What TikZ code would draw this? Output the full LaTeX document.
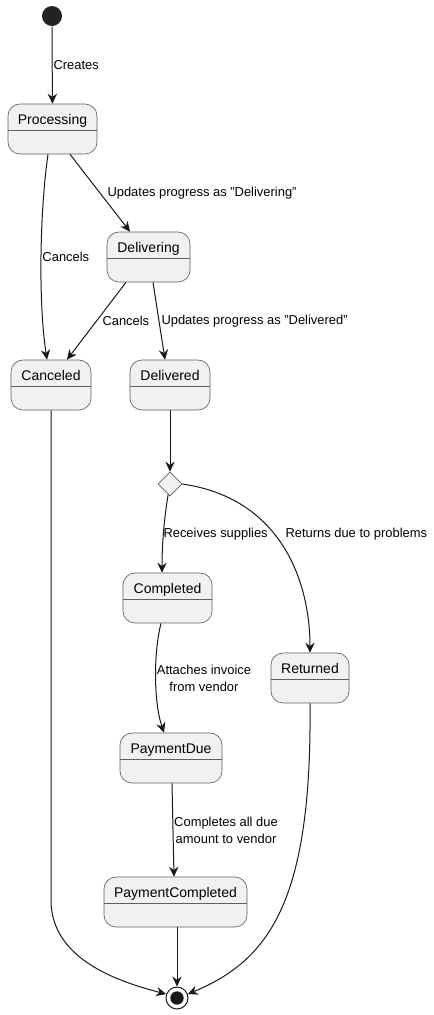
\documentclass[tikz,border=0pt]{standalone}
\usepackage{fontspec}
\setmainfont{Liberation Sans}
\usetikzlibrary{arrows.meta,shapes.geometric,calc}

\definecolor{stfill}{HTML}{F1F1F1}
\definecolor{stline}{HTML}{5F5F5F}
\definecolor{edgecol}{HTML}{181818}

\tikzset{every picture/.style={line width=0.75pt},
	state/.style={draw=stline, fill=stfill, rounded corners=9pt, line width=0.5pt, minimum height=37.5pt, inner xsep=0pt, inner ysep=0pt, text height=15pt, text depth=22.5pt, font=\fontsize{10.5}{12}\selectfont},
	trans/.style={draw=edgecol, line width=0.75pt, -{Stealth[length=7.5pt,width=7pt,inset=2.5pt]}},
	lbl/.style={font=\fontsize{9.7}{12.75}\selectfont, inner sep=0pt, text=black, align=center},
}

\begin{document}
\begin{tikzpicture}[x=0.75pt,y=0.75pt,yscale=-1,xscale=1]
	\useasboundingbox (0,0) rectangle (434,1015);

	%Shape: Start point
	\node[circle, fill={rgb, 255:red, 34; green, 34; blue, 34}, minimum size=15pt, inner sep=0pt] (start) at (52,16) {};

	%Shape: States
	\node[state, minimum width=66.75pt] (proc) at (52.5,129) {Processing};
	\node[state, minimum width=62.25pt] (deliv) at (148.5,257) {Delivering};
	\node[state, minimum width=60pt] (canc) at (51,385) {Canceled};
	\node[state, minimum width=60pt] (delivd) at (170,385) {Delivered};
	\node[diamond, draw=stline, fill=stfill, line width=0.5pt, minimum size=18pt, inner sep=0pt] (choice) at (170,484) {};
	\node[state, minimum width=66.75pt] (compl) at (167.5,598) {Completed};
	\node[state, minimum width=58.5pt] (ret) at (310,678) {Returned};
	\node[state, minimum width=76.5pt] (pdue) at (171,758) {PaymentDue};
	\node[state, minimum width=107.25pt] (pcomp) at (175.5,902) {PaymentCompleted};

	%Shape: End point
	\node[circle, draw=edgecol, fill=white, line width=0.75pt, minimum size=16.5pt, inner sep=0pt] (endst) at (177,998) {};
	\fill[edgecol] (endst) circle (5pt);

	%Straight Lines: dividers
	\foreach \s in {proc,deliv,canc,delivd,compl,ret,pdue,pcomp}
		\draw[stline, line width=0.5pt] ($(\s.north west)+(0,27)$) -- ($(\s.north east)+(0,27)$);

	%Curve Lines: transitions
	\draw[trans] (start) -- (proc);
	\draw[trans] ($(proc.south)+(-4.5,0)$) .. controls (40,210) and (38,300) .. ($(canc.north)+(-4,0)$);
	\draw[trans] ($(proc.south)+(17.5,0)$) -- ($(deliv.north)+(-18.5,0)$);
	\draw[trans] ($(deliv.south)+(-22.5,0)$) -- ($(canc.north)+(16,0)$);
	\draw[trans] ($(deliv.south)+(4.5,0)$) -- ($(delivd.north)+(-5,0)$);
	\draw[trans] (delivd) -- (choice);
	\draw[trans] (choice.-100) .. controls (164,520) and (162,545) .. ($(compl.north)+(-5.5,0)$);
	\draw[trans] (choice.east) .. controls (280,498) and (310,580) .. (ret.north);
	\draw[trans] ($(compl.south)+(-6.5,0)$) .. controls (154,650) and (153,700) .. ($(pdue.north)+(-7,0)$);
	\draw[trans] ($(pdue.south)+(1,0)$) -- ($(pcomp.north)+(-1.5,0)$);
	\draw[trans] ($(pcomp.south)+(1.5,0)$) -- (endst.north);
	\coordinate (cbend) at (51,900);
	\draw[trans] (canc.south) -- (cbend) .. controls (51,960) and (120,982) .. (endst.160);
	\draw[trans] (ret.south) .. controls (312,900) and (270,960) .. (endst.20);

	% Text Node
	\node[lbl, anchor=west] (lcreates) at (53,65) {Creates};
	% Text Node
	\node[lbl, anchor=west] (ltodeliv) at (107,193) {Updates progress as "Delivering"};
	% Text Node
	\node[lbl, anchor=west] (lcancA) at (42,257) {Cancels};
	% Text Node
	\node[lbl, anchor=west] (lcancB) at (102,321) {Cancels};
	% Text Node
	\node[lbl, anchor=west] (ltodelivd) at (161,321) {Updates progress as "Delivered"};
	% Text Node
	\node[lbl, anchor=west] (lreceives) at (163,534) {Receives supplies};
	% Text Node
	\node[lbl, anchor=west] (lreturns) at (285,534) {Returns due to problems};
	% Text Node
	\node[lbl] (lattach) at (204,678) {Attaches invoice\\from vendor};
	% Text Node
	\node[lbl] (lpays) at (226,830) {Completes all due\\amount to vendor};

\end{tikzpicture}
\end{document}
